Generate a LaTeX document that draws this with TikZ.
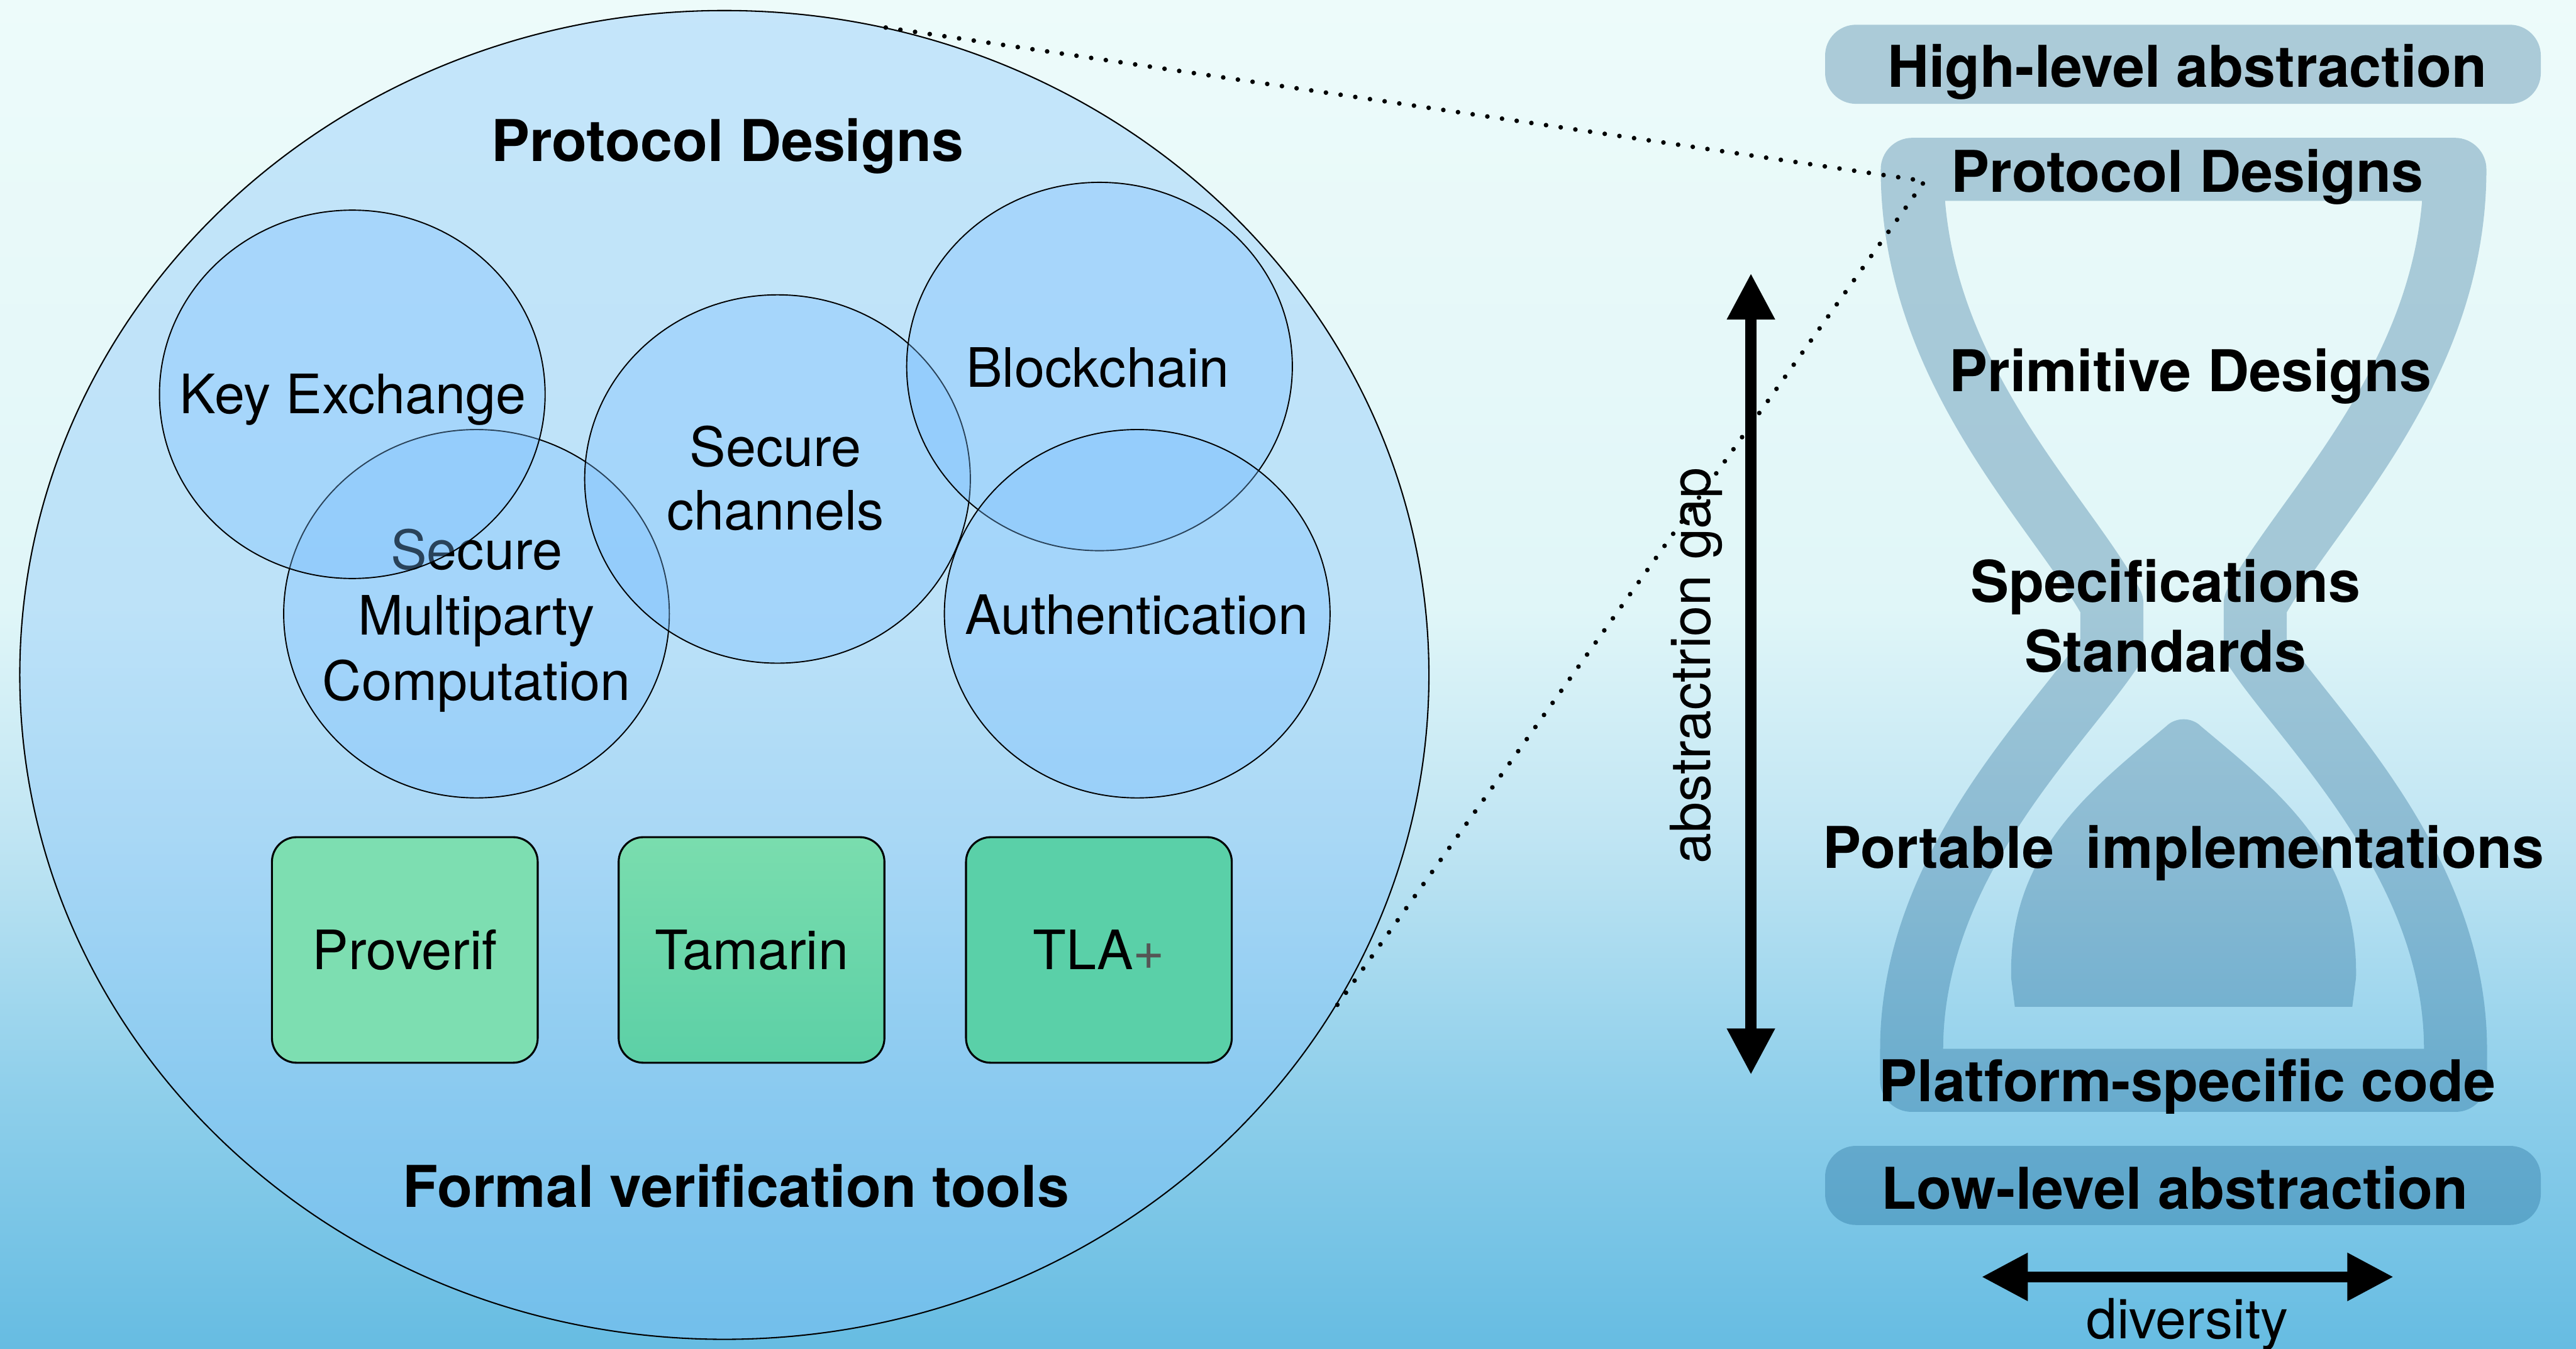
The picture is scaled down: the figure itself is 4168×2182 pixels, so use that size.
\documentclass[tikz,border=0pt]{standalone}
\usepackage{fontspec}
\setmainfont{TeX Gyre Heros}
\usetikzlibrary{shapes.geometric,arrows.meta}
\definecolor{bgA}{RGB}{237,251,250}
\definecolor{bgB}{RGB}{224,246,248}
\definecolor{bgC}{RGB}{192,229,243}
\definecolor{bgD}{RGB}{145,208,235}
\definecolor{bgE}{RGB}{102,188,226}
\definecolor{ellc}{RGB}{132,195,250}
\definecolor{circc}{RGB}{120,190,255}
\definecolor{hgc}{RGB}{15,88,136}
\definecolor{gA}{RGB}{125,222,177}
\definecolor{gBt}{RGB}{122,221,174}
\definecolor{gBb}{RGB}{92,208,166}
\definecolor{gC}{RGB}{90,208,168}
\definecolor{plusgray}{RGB}{85,85,85}
\pgfdeclareverticalshading{bgshade}{100bp}{color(0bp)=(bgE); color(25bp)=(bgE); color(35bp)=(bgD); color(44bp)=(bgC); color(52.5bp)=(bgB); color(75bp)=(bgA); color(100bp)=(bgA)}
\newcommand\bigbold{\fontsize{26.5pt}{32pt}\selectfont\bfseries}
\newcommand\lblsize{\fontsize{25pt}{30pt}\selectfont}
\newcommand\regsize{\fontsize{25.5pt}{30pt}\selectfont}
\begin{document}
\begin{tikzpicture}[x=0.1mm,y=-0.1mm,
  boldtxt/.style={inner sep=0pt, text height=19.1pt, text depth=0pt, font=\bigbold},
  lbltxt/.style={inner sep=0pt, text height=18pt, text depth=0pt, font=\lblsize},
  regtxt/.style={inner sep=0pt, text height=18.4pt, text depth=0pt, font=\regsize},
  mainell/.style={ellipse, draw, line width=0.6pt, fill=ellc, fill opacity=0.38, minimum width=228mm, minimum height=215mm, inner sep=0pt},
  subell/.style={ellipse, draw, line width=0.55pt, fill=circc, fill opacity=0.35, minimum width=62.4mm, minimum height=59.6mm, inner sep=0pt},
  toolbox/.style={draw, line width=0.9pt, rounded corners=4mm, minimum width=43mm, minimum height=36.5mm, inner sep=0pt, text height=18pt, text depth=0pt, font=\lblsize},
  bandbox/.style={fill=hgc, fill opacity=0.29, rounded corners=5mm, minimum width=115.8mm, minimum height=12.8mm, inner sep=0pt},
  hgband/.style={draw=hgc, draw opacity=0.29, line width=10.2mm, line join=round},
  hgsand/.style={fill=hgc, fill opacity=0.29},
  dotline/.style={line width=0.75mm, line cap=round, dash pattern=on 0pt off 2.4mm},
  bigarrow/.style={line width=1.8mm, arrows={Triangle[length=7.5mm,width=7.3mm]-Triangle[length=7.5mm,width=7.3mm]}}
]
\useasboundingbox (0,0) rectangle (4168,2182);
\shade[shading=bgshade] (0,0) rectangle (4168,2182);

% left: protocol designs ellipse
\node[mainell] (pd) at (1172,1092) {};
\node[boldtxt] (pdl) at (1177,227) {Protocol Designs};

\node[subell] (smc) at (771,993) {};
\node[lbltxt] (smc1) at (771,890) {Secure};
\node[lbltxt] (smc2) at (771,996) {Multiparty};
\node[lbltxt] (smc3) at (771,1101) {Computation};

\node[subell] (kx) at (570,638) {};
\node[lbltxt] (kxl) at (571,637) {Key Exchange};

\node[subell] (sc) at (1258,775) {};
\node[lbltxt] (sc1) at (1255,723) {Secure};
\node[lbltxt] (sc2) at (1255,826) {channels};

\node[subell] (bc) at (1779,593) {};
\node[lbltxt] (bcl) at (1776,595) {Blockchain};

\node[subell] (au) at (1840,993) {};
\node[lbltxt] (aul) at (1839,995) {Authentication};

\node[toolbox, fill=gA] (pv) at (655,1537) {Proverif};
\node[toolbox, top color=gBt, bottom color=gBb] (tm) at (1216,1537) {Tamarin};
\node[toolbox, fill=gC] (tla) at (1778,1537) {TLA\textcolor{plusgray}{+}};

\node[boldtxt] (fvt) at (1191,1920) {Formal verification tools};

% right: hourglass
\node[bandbox] (hlb) at (3532,104) {};
\node[boldtxt] (hl) at (3539,107) {High-level abstraction};

\draw[hgband] (3094,274) -- (3972,274)
  .. controls (3972,600) and (3736,820) .. (3649,977) -- (3649,1050)
  .. controls (3736,1180) and (3973,1400) .. (3973,1698) -- (3973,1748)
  -- (3093,1748) -- (3093,1698)
  .. controls (3093,1400) and (3330,1180) .. (3417,1050) -- (3417,977)
  .. controls (3330,820) and (3094,600) .. cycle;
\fill[hgsand] (3260,1629) -- (3254,1582)
  .. controls (3250,1380) and (3380,1280) .. (3505,1175)
  .. controls (3520,1160) and (3546,1160) .. (3561,1175)
  .. controls (3686,1280) and (3816,1380) .. (3812,1582)
  -- (3806,1629) -- cycle;

\node[boldtxt] (pdr) at (3539,277) {Protocol Designs};
\node[boldtxt] (prim) at (3544,600) {Primitive Designs};
\node[boldtxt] (spec) at (3504,941) {Specifications};
\node[boldtxt] (std) at (3504,1054) {Standards};
\node[boldtxt] (port) at (3533,1371) {Portable\ \ implementations};
\node[boldtxt] (plat) at (3539,1749) {Platform-specific code};

\node[bandbox] (llb) at (3532,1918) {};
\node[boldtxt] (ll) at (3519,1923) {Low-level abstraction};

% abstraction gap arrow
\coordinate (gtop) at (2833,442);
\coordinate (gbot) at (2833,1739);
\draw[bigarrow] (gtop) -- (gbot);
\node[regtxt, rotate=90] (gap) at (2735,1077) {abstractrion gap};

% diversity arrow
\coordinate (dl) at (3206,2066);
\coordinate (dr) at (3873,2066);
\draw[bigarrow] (dl) -- (dr);
\node[regtxt] (div) at (3539,2134) {diversity};

% dotted zoom lines
\coordinate (conv) at (3114,293);
\draw[dotline] (pd.76.5) -- (conv) -- (pd.-29.6);
\end{tikzpicture}
\end{document}
